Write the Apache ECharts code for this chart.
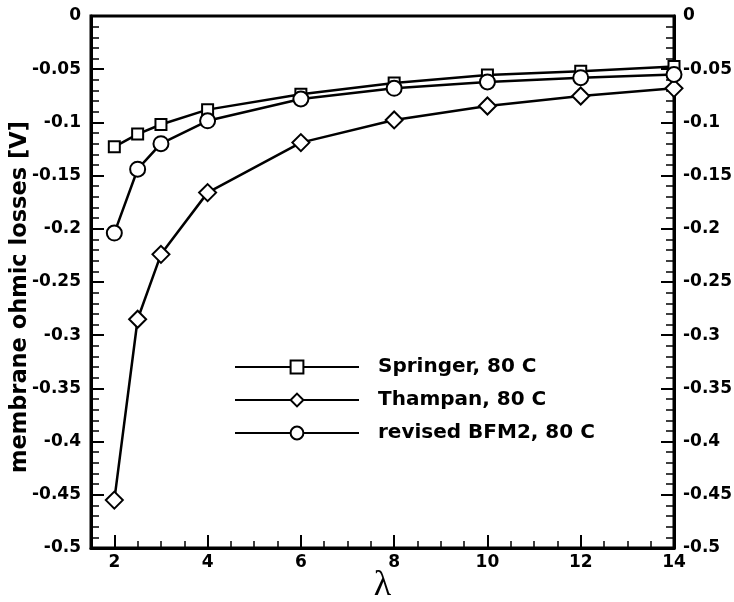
<!DOCTYPE html>
<html><head><meta charset="utf-8">
<script src="https://cdn.jsdelivr.net/npm/echarts@6/dist/echarts.min.js"></script>
<style>html,body{margin:0;padding:0;background:#fff}#c{width:734px;height:602px}</style>
</head><body><div id="c"></div>
<script>
// ---- data ----
const lambdaValues = [2, 2.5, 3, 4, 6, 8, 10, 12, 14];
const springer    = [-0.123, -0.111, -0.102, -0.088, -0.0735, -0.063, -0.0555, -0.052, -0.0475];
const thampan     = [-0.455, -0.285, -0.224, -0.166, -0.119, -0.0977, -0.0846, -0.0752, -0.068];
const revisedBFM2 = [-0.204, -0.144, -0.120, -0.0985, -0.078, -0.068, -0.062, -0.058, -0.055];
const seriesNames = ['Springer, 80 C', 'Thampan, 80 C', 'revised BFM2, 80 C'];
const xTickValues = [2, 4, 6, 8, 10, 12, 14];
const xName = 'λ';
const yName = 'membrane ohmic losses [V]';

const pairs = arr => lambdaValues.map((x, i) => [x, arr[i]]);
const labelFont = { fontFamily: 'DejaVu Sans', fontWeight: 'bold', fontSize: 17, color: '#000' };

const chart = echarts.init(document.getElementById('c'), null, { renderer: 'canvas' });
const mkSeries = (name, arr, symbol, size) => ({
  name, type: 'line', data: pairs(arr), symbol, symbolSize: size, showAllSymbol: true,
  lineStyle: { color: '#000', width: 2.5 },
  itemStyle: { color: '#000', borderColor: '#000', borderWidth: 2.5 },
  emphasis: { disabled: true }, animation: false, clip: false, z: 5
});

chart.setOption({
  animation: false,
  backgroundColor: '#fff',
  grid: { left: 91, right: 60, top: 16, bottom: 54, containLabel: false, outerBoundsMode: 'none',
          show: true, borderColor: '#000', borderWidth: 3, backgroundColor: 'transparent' },
  legend: {
    orient: 'vertical', left: 234, top: 357, padding: 0, itemGap: 13,
    itemWidth: 124, itemHeight: 16,
    data: seriesNames,
    textStyle: { fontFamily: 'DejaVu Sans', fontWeight: 'bold', fontSize: 20, color: '#000', lineHeight: 20, padding: [0, 0, 0, 14] }
  },
  xAxis: [
    {
      type: 'value', position: 'bottom', min: 1.5, max: 14,
      name: xName, nameLocation: 'middle', nameGap: 20, nameMoveOverlap: false,
      nameTextStyle: { fontFamily: 'Liberation Serif', fontSize: 36, color: '#000' },
      axisLine: { show: true, onZero: false, lineStyle: { color: '#000', width: 3 } },
      axisTick: { show: true, inside: true, length: 13, lineStyle: { color: '#000', width: 2 }, customValues: xTickValues },
      axisLabel: Object.assign({ margin: 6, customValues: xTickValues }, labelFont),
      splitLine: { show: false }
    },
    {
      type: 'value', position: 'bottom', min: 1.5, max: 14, interval: 0.5,
      axisLine: { show: false, onZero: false },
      axisTick: { show: true, inside: true, length: 7, lineStyle: { color: '#000', width: 1.5 } },
      axisLabel: { show: false },
      splitLine: { show: false }
    }
  ],
  yAxis: [
    {
      type: 'value', position: 'left', min: -0.5, max: 0, interval: 0.05,
      name: yName, nameLocation: 'middle', nameGap: 59, nameRotate: 90, nameMoveOverlap: false,
      nameTextStyle: { fontFamily: 'DejaVu Sans', fontWeight: 'bold', fontSize: 22.5, color: '#000', padding: [0, 30, 0, 0] },
      axisLine: { show: true, onZero: false, lineStyle: { color: '#000', width: 3 } },
      axisTick: { show: true, inside: true, length: 13, lineStyle: { color: '#000', width: 2 } },
      minorTick: { show: true, splitNumber: 5, length: 8, lineStyle: { color: '#000', width: 1.5 } },
      axisLabel: Object.assign({ margin: 10 }, labelFont),
      splitLine: { show: false }
    },
    {
      type: 'value', position: 'right', min: -0.5, max: 0, interval: 0.05,
      axisLine: { show: true, onZero: false, lineStyle: { color: '#000', width: 3 } },
      axisTick: { show: true, inside: true, length: 13, lineStyle: { color: '#000', width: 2 } },
      minorTick: { show: true, splitNumber: 5, length: 8, lineStyle: { color: '#000', width: 1.5 } },
      axisLabel: Object.assign({ margin: 9 }, labelFont),
      splitLine: { show: false }
    }
  ],
  series: [
    mkSeries(seriesNames[0], springer, 'emptyRect', 11),
    mkSeries(seriesNames[1], thampan, 'emptyDiamond', 17),
    mkSeries(seriesNames[2], revisedBFM2, 'emptyCircle', 15)
  ]
});
</script></body></html>
